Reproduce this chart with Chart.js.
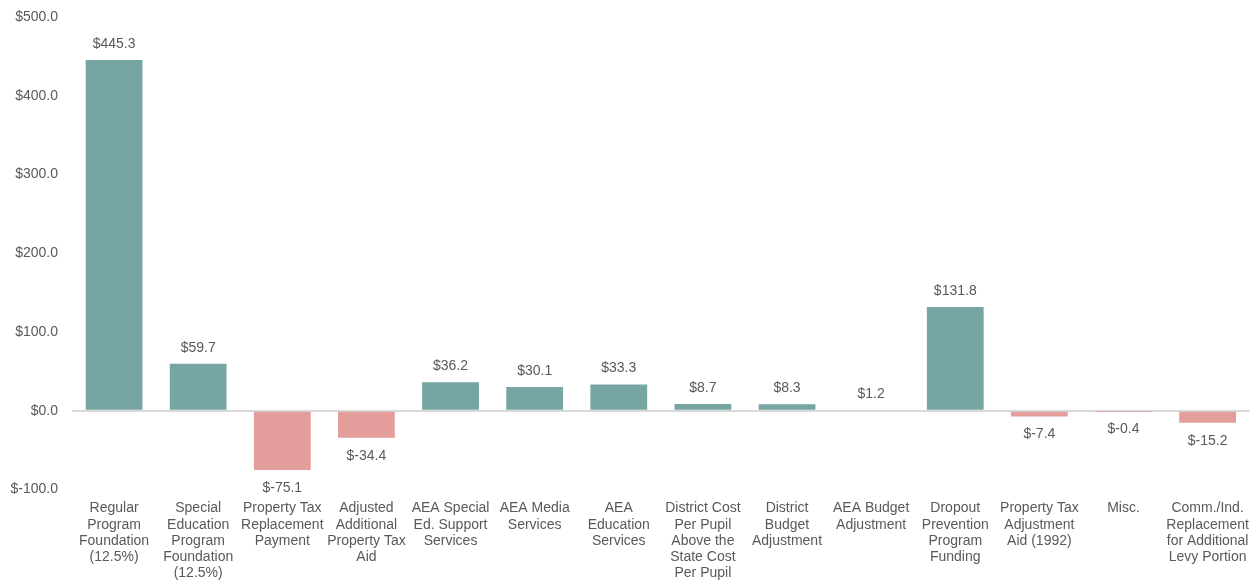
<!DOCTYPE html>
<html>
<head>
<meta charset="utf-8">
<script src="https://cdn.jsdelivr.net/npm/chart.js@4/dist/chart.umd.min.js"></script>
<style>
  html, body { margin: 0; padding: 0; background: #fff; }
  #wrap { width: 1260px; height: 580px; position: relative; }
</style>
</head>
<body>
<div id="wrap"><canvas id="c"></canvas></div>
<script>
const categories = [
  ["Regular", "Program", "Foundation", "(12.5%)"],
  ["Special", "Education", "Program", "Foundation", "(12.5%)"],
  ["Property Tax", "Replacement", "Payment"],
  ["Adjusted", "Additional", "Property Tax", "Aid"],
  ["AEA Special", "Ed. Support", "Services"],
  ["AEA Media", "Services"],
  ["AEA", "Education", "Services"],
  ["District Cost", "Per Pupil", "Above the", "State Cost", "Per Pupil"],
  ["District", "Budget", "Adjustment"],
  ["AEA Budget", "Adjustment"],
  ["Dropout", "Prevention", "Program", "Funding"],
  ["Property Tax", "Adjustment", "Aid (1992)"],
  ["Misc."],
  ["Comm./Ind.", "Replacement", "for Additional", "Levy Portion"]
];
const values = [445.3, 59.7, -75.1, -34.4, 36.2, 30.1, 33.3, 8.7, 8.3, 1.2, 131.8, -7.4, -0.4, -15.2];
const yTicks = [-100, 0, 100, 200, 300, 400, 500];

const POS = '#76a5a3', NEG = '#e39d9b', TXT = '#595959';
const FONT = { family: "'Liberation Sans', Arial, sans-serif", size: 14, lineHeight: 1.15 };

const valueLabels = {
  id: 'valueLabels',
  afterDatasetsDraw(chart) {
    const ctx = chart.ctx;
    const meta = chart.getDatasetMeta(0);
    ctx.save();
    ctx.font = `${FONT.size}px ${FONT.family}`;
    ctx.fillStyle = TXT;
    ctx.textAlign = 'center';
    ctx.textBaseline = 'middle';
    meta.data.forEach((bar, i) => {
      const v = values[i];
      const txt = '$' + v.toFixed(1);
      const y = v >= 0 ? bar.y - 16 : bar.y + 18;
      ctx.fillText(txt, bar.x, y);
    });
    ctx.restore();
  }
};

new Chart(document.getElementById('c'), {
  type: 'bar',
  data: {
    labels: categories,
    datasets: [{
      data: values,
      backgroundColor: values.map(v => v >= 0 ? POS : NEG),
      borderWidth: 0,
      categoryPercentage: 1,
      barPercentage: 0.675
    }]
  },
  options: {
    responsive: true,
    maintainAspectRatio: false,
    animation: false,
    layout: { autoPadding: false, padding: { left: 0, right: 4, top: 17, bottom: -12 } },
    plugins: { legend: { display: false }, tooltip: { enabled: false } },
    scales: {
      x: {
        grid: { display: false, drawTicks: false },
        border: { display: false },
        ticks: { color: TXT, font: FONT, maxRotation: 0, autoSkip: false, padding: 11 }
      },
      y: {
        min: -100, max: 500,
        afterBuildTicks(axis) { axis.ticks = yTicks.map(v => ({ value: v })); },
        afterFit(axis) { axis.width = 72; axis.paddingTop = 0; axis.paddingBottom = 0; },
        grid: {
          drawTicks: false,
          color: ctx => (ctx.tick && ctx.tick.value === 0) ? '#d9d9d9' : 'rgba(0,0,0,0)',
          lineWidth: 2
        },
        border: { display: false },
        ticks: {
          color: TXT, font: FONT, padding: 14,
          callback: v => '$' + Number(v).toFixed(1)
        }
      }
    }
  },
  plugins: [valueLabels]
});
</script>
</body>
</html>
